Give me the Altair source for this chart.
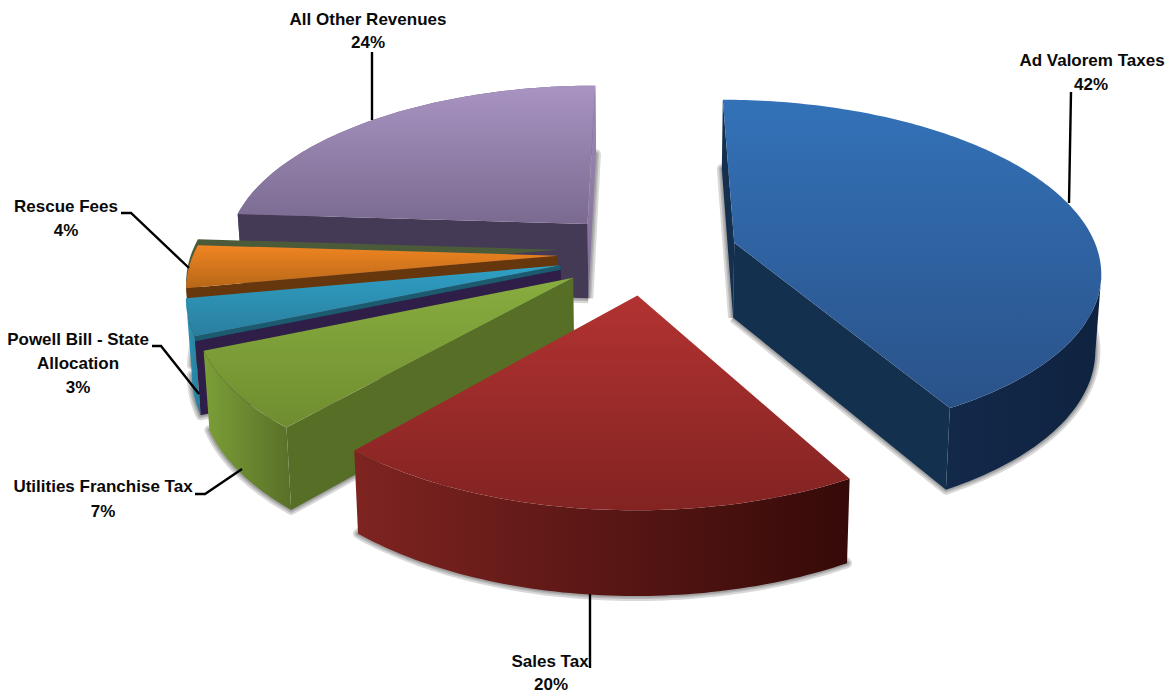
import numpy as np
import pandas as pd
import altair as alt

# Revenue shares, percent (labels show the rounded figures)
names = ["Ad Valorem Taxes", "Sales Tax", "Utilities Franchise Tax",
         "Powell Bill - State Allocation", "Rescue Fees", "All Other Revenues"]
shares = [41.9, 19.5, 7.2, 3.4, 4.0, 24.0]
explode = [0.25, 0.245, 0.245, 0.245, 0.245, 0.245]

# Top-face gradient (far edge, near edge), rim colours (left, right)
top_colors = [("#3372b8", "#2a5289"), ("#b23331", "#822322"), ("#88ad3f", "#6f8d30"),
              ("#2fa0c5", "#2a7e9d"), ("#f08522", "#b76717"), ("#a994c2", "#7a6a90")]
rim_colors = [("#13294a", "#0f2340"), ("#7e2421", "#350a08"), ("#7c9f38", "#596f28"),
              ("#2e93b4", "#287c9a"), ("#6e3a10", "#5f320d"), ("#6b5c80", "#6b5c80")]

# Walls along the cut edges that face the viewer
front_cut_colors = ["#14304f", None, "#576e26", "#2f1f48", "#66360d", "#453a55"]
front_cut_end = [-1, 0, 0, 0, 0, 0]
side_cut_colors = ["#15304f", None, None, None, None, ("#a08bb8", "#7c6c92")]
side_cut_end = [0, 0, 0, 0, 0, -1]

label_lines = ["Ad Valorem Taxes", "42%", "All Other Revenues", "24%", "Sales Tax", "20%",
               "Rescue Fees", "4%", "Powell Bill - State", "Allocation", "3%",
               "Utilities Franchise Tax", "7%"]
label_x = [1092, 1091, 368, 368, 550, 551, 66, 66, 78, 78, 78, 103, 103]
label_y = [61, 85, 20, 43, 662, 685, 207, 231, 340, 364, 388, 487, 512]

leaders = [
    [(1071, 92), (1069, 203)],
    [(372, 52), (372, 120)],
    [(590, 594), (590, 668)],
    [(121, 213), (131, 213), (189, 268)],
    [(152, 346), (161, 346), (199, 394)],
    [(195, 494), (205, 494), (242, 469)],
]

# Camera of the tilted pie
CX, HORIZON = 647.0, -847.0
PLANE0, PLANE_SLOPE = 9.09e-4, 1.385e-4
X_SCALE, REF_DEPTH = 364.0, 1100.0


def project(u, v):
    depth = 1.0 / (PLANE0 + PLANE_SLOPE * np.asarray(v, dtype=float))
    return CX + X_SCALE * np.asarray(u, dtype=float) * depth / REF_DEPTH, HORIZON + depth


def drop(x, y):
    depth = y - HORIZON
    return CX + (x - CX) * 0.987, y + 75 + 0.04 * (depth - 1090)


def rim(apex, a0, a1):
    t = np.radians(np.linspace(a0, a1, max(6, int(abs(a1 - a0)))))
    return project(apex[0] + np.sin(t), apex[1] + np.cos(t))


def shape(xs, ys):
    xs, ys = np.asarray(xs, dtype=float), np.asarray(ys, dtype=float)
    return pd.DataFrame({"x": xs, "y": ys, "i": np.arange(len(xs))})


X = alt.X("x:Q", scale=alt.Scale(domain=[0, 1169]), axis=None)
Y = alt.Y("y:Q", scale=alt.Scale(domain=[696, 0]), axis=None)


def vertical(c0, c1):
    return alt.LinearGradient(gradient="linear", x1=0, x2=0, y1=0, y2=1,
                              stops=[alt.GradientStop(color=c0, offset=0),
                                     alt.GradientStop(color=c1, offset=1)])


def horizontal(c0, c1):
    return alt.LinearGradient(gradient="linear", x1=0, x2=1, y1=0, y2=0,
                              stops=[alt.GradientStop(color=c0, offset=0),
                                     alt.GradientStop(color=c1, offset=1)])


def poly(df, fill):
    return alt.Chart(df).mark_line(fill=fill, strokeWidth=0).encode(x=X, y=Y, order="i:Q")


def soft_edge(df):
    return [alt.Chart(df).mark_line(stroke="#3a3a3a", strokeWidth=w, strokeOpacity=0.2,
                                    strokeJoin="round").encode(x=X, y=Y, order="i:Q")
            for w in (10, 6, 3)]


def cut_face(ax, ay, bax, bay, px, py, qx, qy, fill):
    return poly(shape([ax, px, qx, bax], [ay, py, qy, bay]), fill)


edges = np.cumsum([0.0] + shares) * 3.6
layers = []

# Painted from the far slices to the near ones
for k in [5, 4, 3, 2, 1, 0]:
    a0, a1 = edges[k], edges[k + 1]
    mid = np.radians((a0 + a1) / 2)
    apex = (explode[k] * np.sin(mid), explode[k] * np.cos(mid))
    ax, ay = project(*apex)
    rx, ry = rim(apex, a0, a1)
    bax, bay = drop(ax, ay)
    brx, bry = drop(rx, ry)

    # Soft shadow around the underside
    layers += soft_edge(shape(np.r_[bax, brx, bax], np.r_[bay, bry, bay]))

    # Curved outer wall, from the widest point on for the large slice
    first = int(np.argmax(rx)) if k == 0 else 0
    layers.append(poly(shape(np.r_[rx[first:], brx[first:][::-1]], np.r_[ry[first:], bry[first:][::-1]]),
                       horizontal(*rim_colors[k])))

    # Cut faces
    side = side_cut_colors[k]
    if side:
        e = side_cut_end[k]
        fill = vertical(*side) if isinstance(side, tuple) else side
        layers.append(cut_face(ax, ay, bax, bay, rx[e], ry[e], brx[e], bry[e], fill))
    front = front_cut_colors[k]
    if front:
        e = front_cut_end[k]
        layers.append(cut_face(ax, ay, bax, bay, rx[e], ry[e], brx[e], bry[e], front))
        if k == 3:
            # Thin lit strip along the top of this cut
            f = 0.06
            layers.append(cut_face(ax, ay, ax + (bax - ax) * f, ay + (bay - ay) * f,
                                   rx[e], ry[e], rx[e] + (brx[e] - rx[e]) * f, ry[e] + (bry[e] - ry[e]) * f,
                                   "#1c5a70"))

    # Olive sliver behind the orange slice
    if k == 4:
        layers.append(poly(shape(np.r_[ax, rx], np.r_[ay, ry] - 6), "#4b5b3a"))

    # Top face
    layers.append(poly(shape(np.r_[ax, rx], np.r_[ay, ry]), vertical(*top_colors[k])))

# Leader lines
for line in leaders:
    df = shape([p[0] for p in line], [p[1] for p in line])
    layers.append(alt.Chart(df).mark_line(color="#000000", strokeWidth=2.4).encode(x=X, y=Y, order="i:Q"))

# Labels
label_df = pd.DataFrame({"x": label_x, "y": label_y, "t": label_lines})
layers.append(alt.Chart(label_df).mark_text(font="Liberation Sans", fontWeight="bold", fontSize=17,
                                            align="center", baseline="middle", color="#0a0a0a")
              .encode(x=X, y=Y, text="t:N"))

chart = alt.layer(*layers).properties(width=1169, height=696, padding=0, autosize="none",
                                      background="#ffffff").configure_view(stroke=None)
chart.save("out.html", embed_options={"renderer": "svg", "actions": False})
